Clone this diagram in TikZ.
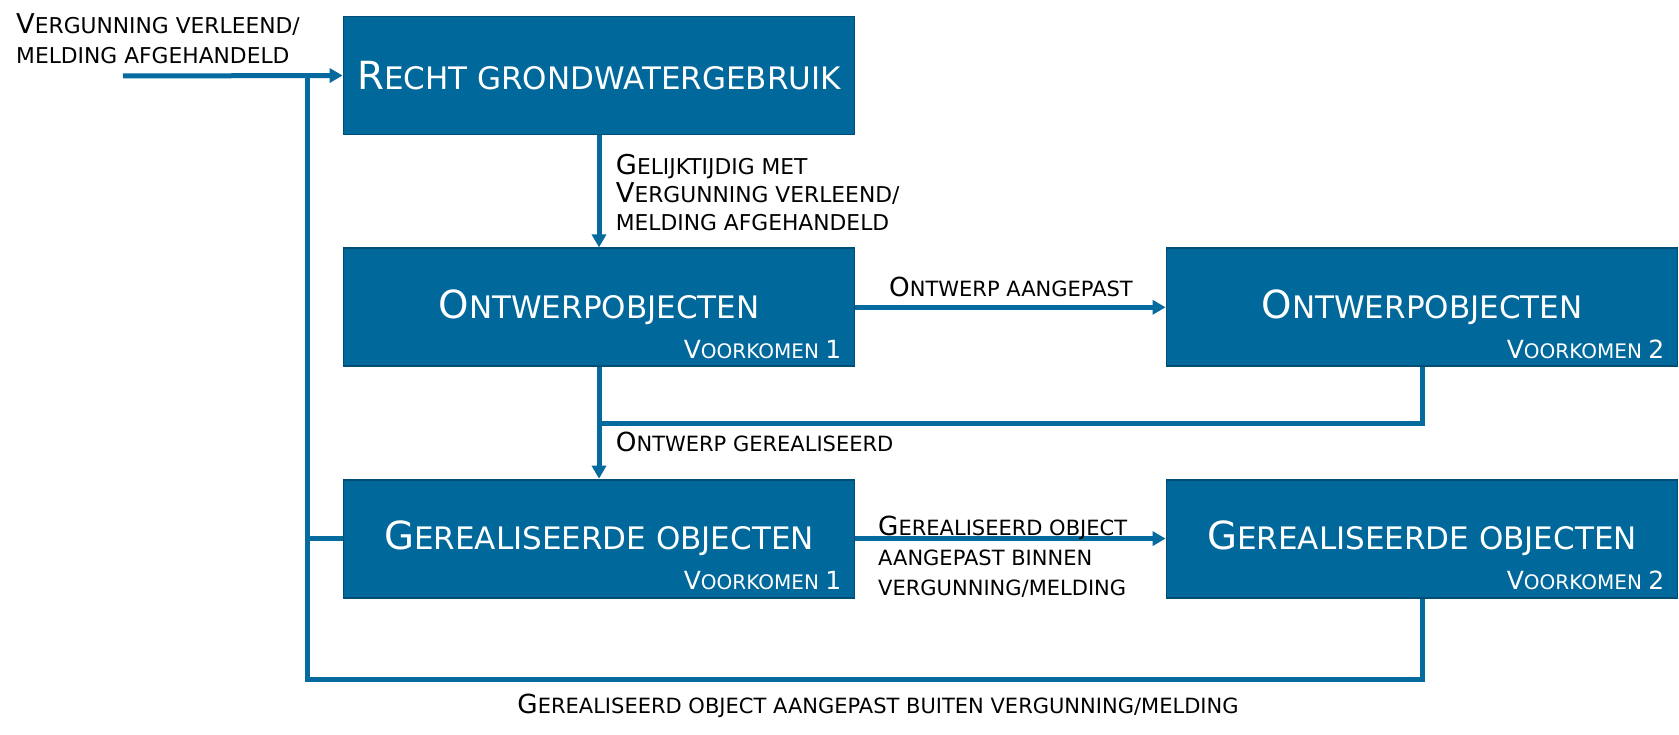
\documentclass[tikz,border=0pt]{standalone}
\usepackage{fontspec}
\setmainfont{DejaVu Sans}
\usetikzlibrary{arrows.meta}
\definecolor{boxblue}{RGB}{0,104,155}
\definecolor{boxedge}{RGB}{0,78,118}
\definecolor{lineblue}{RGB}{5,106,158}
\newcommand\Bg[1]{\scalebox{1.25}{#1}}
\begin{document}
\begin{tikzpicture}[x=1pt,y=-1pt,
  box/.style={draw=boxedge, line width=1.8pt, fill=boxblue, minimum width=511pt, minimum height=118pt, inner sep=0pt},
  ttl/.style={text=white, font=\fontsize{31}{36}\selectfont, inner sep=0pt},
  vk/.style={text=white, font=\fontsize{20}{24}\selectfont, inner sep=0pt, anchor=base east},
  lbl/.style={text=black, font=\fontsize{21}{30}\selectfont, inner sep=0pt, align=left},
  arr/.style={draw=lineblue, line width=5pt, -{Triangle[length=13pt,width=14pt]}},
  fb/.style={draw=lineblue, line width=5pt},
]
\fill[white] (0,0) rectangle (1679,735);
\useasboundingbox (0,0) rectangle (1679,735);

% boxes
\node[box] (b1) at (599,75.5) {};
\node[box] (b2) at (599,307.3) {};
\node[box] (b3) at (1422,307.3) {};
\node[box] (b4) at (599,538.6) {};
\node[box] (b5) at (1422,538.6) {};

% titles
\node[ttl] (t1) at (b1.center) {\Bg{R}ECHT GRONDWATERGEBRUIK};
\node[ttl] (t2) at (b2.center) {\Bg{O}NTWERPOBJECTEN};
\node[ttl] (t3) at (b3.center) {\Bg{O}NTWERPOBJECTEN};
\node[ttl] (t4) at (b4.center) {\Bg{G}EREALISEERDE OBJECTEN};
\node[ttl] (t5) at (b5.center) {\Bg{G}EREALISEERDE OBJECTEN};

\node[vk] (v2) at ([xshift=-14pt,yshift=9pt]b2.south east) {\Bg{V}OORKOMEN \Bg{1}};
\node[vk] (v3) at ([xshift=-14pt,yshift=9pt]b3.south east) {\Bg{V}OORKOMEN \Bg{2}};
\node[vk] (v4) at ([xshift=-14pt,yshift=9pt]b4.south east) {\Bg{V}OORKOMEN \Bg{1}};
\node[vk] (v5) at ([xshift=-14pt,yshift=9pt]b5.south east) {\Bg{V}OORKOMEN \Bg{2}};

% coordinates
\coordinate (in) at (123,76);
\coordinate (jtop) at (307,76);
\coordinate (jbot) at (307,679);
\coordinate (jmid) at (307,538.6);
\coordinate (jo) at (599,423);

% feedback lines
\draw[fb] (jtop) -- (jbot) -| (b5.south);
\draw[fb] (jmid) -- (b4.west);
\draw[fb] (b3.south) |- (jo);

% arrows
\draw[arr] (in) -- (b1.west);
\draw[arr] (b1) -- (b2);
\draw[arr] (b2) -- (b3);
\draw[arr] (b2) -- (b4);
\draw[arr] (b4) -- (b5);

% labels
\node[lbl, anchor=west, font=\fontsize{21.8}{30}\selectfont] (l0) at (16,38.5) {\Bg{V}ERGUNNING VERLEEND/\\MELDING AFGEHANDELD};
\node[lbl, anchor=west, font=\fontsize{21.8}{28}\selectfont] (l1) at (615.7,193) {\Bg{G}ELIJKTIJDIG MET\\\Bg{V}ERGUNNING VERLEEND/\\MELDING AFGEHANDELD};
\node[lbl, anchor=center] (l2) at (1011,287) {\Bg{O}NTWERP AANGEPAST};
\node[lbl, anchor=west] (l3) at (615.7,442) {\Bg{O}NTWERP GEREALISEERD};
\node[lbl, anchor=west] (l4) at (878,557) {\Bg{G}EREALISEERD OBJECT\\AANGEPAST BINNEN\\VERGUNNING/MELDING};
\node[lbl, anchor=center] (l5) at (878,706) {\Bg{G}EREALISEERD OBJECT AANGEPAST BUITEN VERGUNNING/MELDING};
\end{tikzpicture}
\end{document}
